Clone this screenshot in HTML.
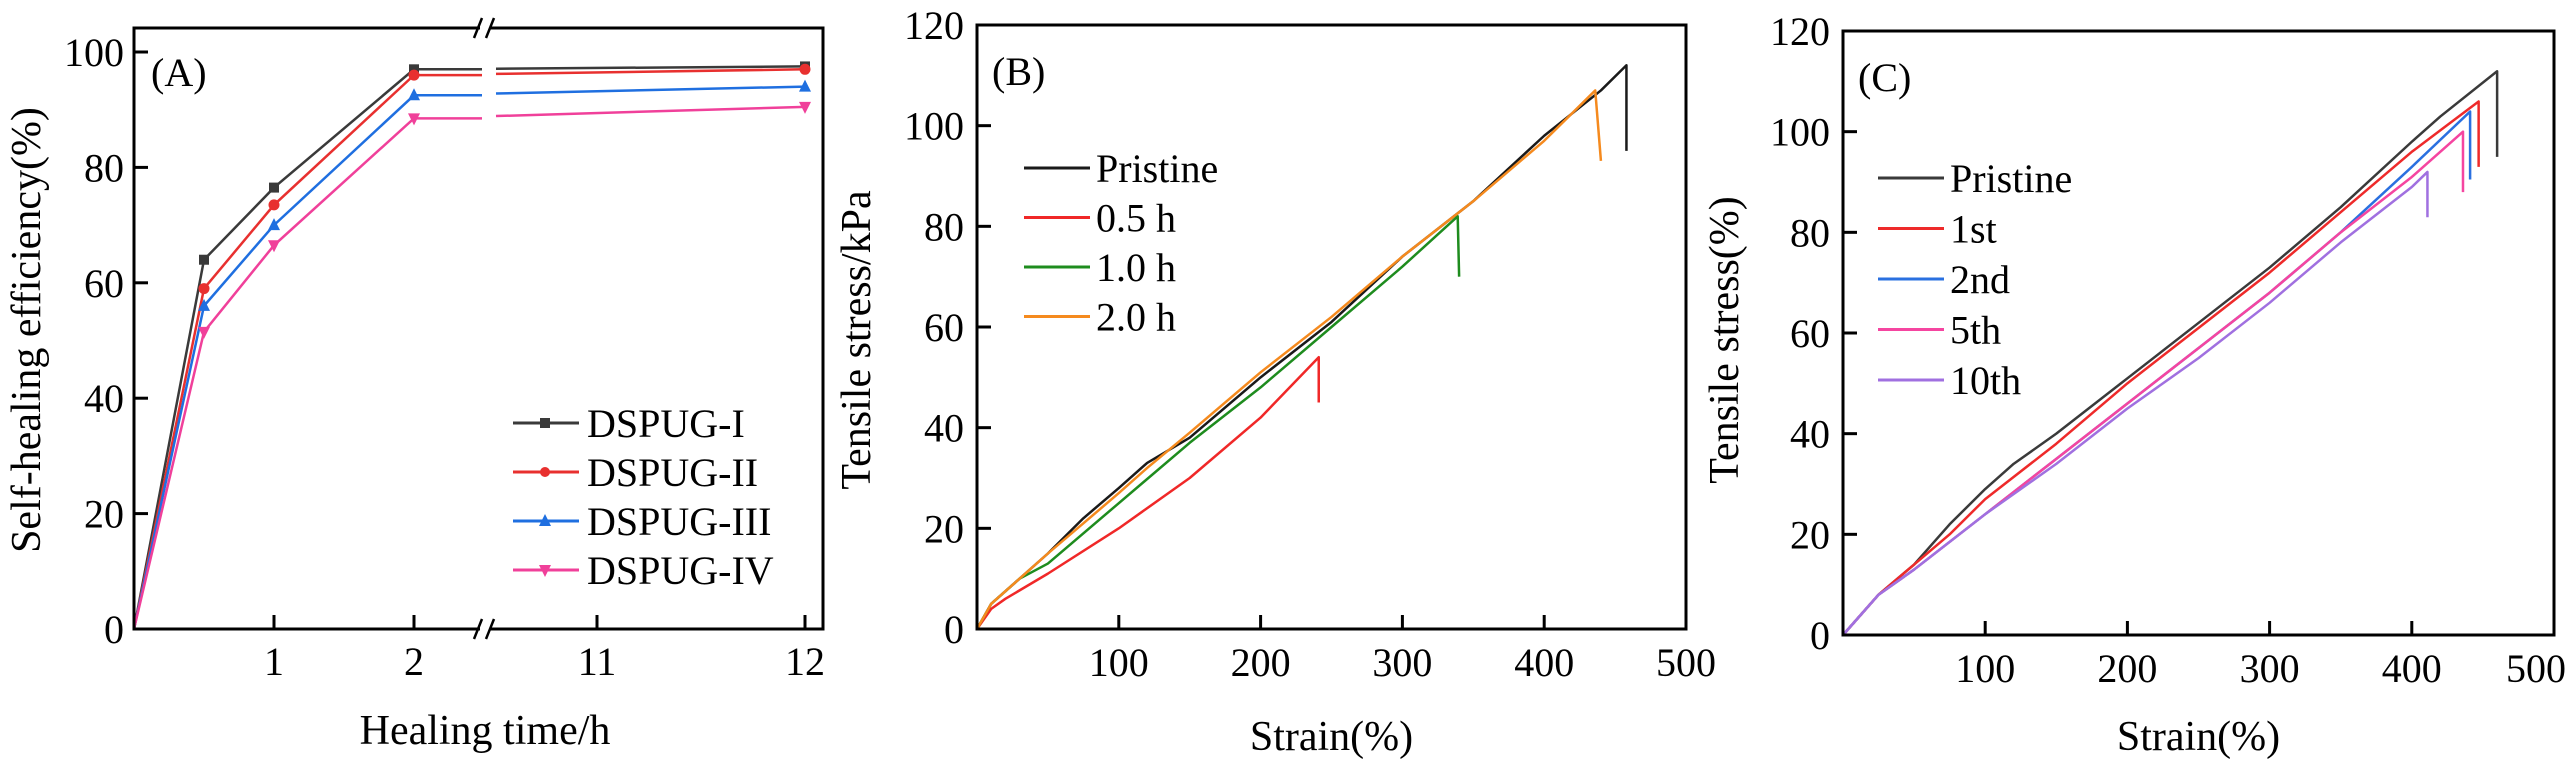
<!DOCTYPE html>
<html><head><meta charset="utf-8"><style>
html,body{margin:0;padding:0;background:#fff;}
svg{display:block;}
svg text{font-family:"Liberation Serif","Times New Roman",serif !important;fill:#000;}
</style></head><body>
<svg id="fig" width="2567" height="763" viewBox="0 0 2567 763" xmlns="http://www.w3.org/2000/svg" font-family="Liberation Serif, serif">
<g id="pa"></g>
<g id="pb"></g>
<g id="pc"></g>
</svg>
<script>
// Panel A data
const aTimes = [0, 0.5, 1, 2, 12];
const aNames = ["DSPUG-I","DSPUG-II","DSPUG-III","DSPUG-IV"];
const aI = [0, 64, 76.5, 97, 97.5];
const aII = [0, 59, 73.5, 96, 97];
const aIII = [0, 56, 70, 92.5, 94];
const aIV = [0, 51.5, 66.5, 88.5, 90.5];
const aXTicks = [1, 2, 11, 12];
const aYTicks = [0, 20, 40, 60, 80, 100];

// Panel B data (strain %, stress kPa)
const bNames = ["Pristine","0.5 h","1.0 h","2.0 h"];
const bPristineX = [0,10,30,50,75,100,120,150,200,250,300,350,400,440,458,458];
const bPristineY = [0,5,10,15,22,28,33,38,50,61,74,85,98,107,112,95];
const bHalfX = [0,10,20,50,100,150,200,241,241];
const bHalfY = [0,4,6,11,20,30,42,54,45];
const bOneX = [0,10,30,50,100,150,200,250,300,339,340];
const bOneY = [0,5,10,13,25,37,48,60,72,82,70];
const bTwoX = [0,10,30,50,75,100,120,150,200,250,300,350,400,436,440];
const bTwoY = [0,5,10,15,21,27,32,39,51,62,74,85,97,107,93];
const bXTicks = [100,200,300,400,500];
const bYTicks = [0,20,40,60,80,100,120];

// Panel C data
const cNames = ["Pristine","1st","2nd","5th","10th"];
const cPristineX = [0,25,50,75,100,120,150,200,250,300,350,400,420,460,460];
const cPristineY = [0,8,14,22,29,34,40,51,62,73,85,98,103,112,95];
const cFirstX = [0,25,50,75,100,150,200,250,300,350,400,447,447];
const cFirstY = [0,8,14,20,27,38,50,61,72,84,96,106,93];
const cSecondX = [0,25,50,100,150,200,250,300,350,400,441,441];
const cSecondY = [0,8,13,24,35,46,57,68,80,93,104,90.5];
const cFifthX = [0,25,50,100,150,200,250,300,350,400,436,436];
const cFifthY = [0,8,13,24,35,46,57,68,80,91,100,88];
const cTenthX = [0,25,50,100,150,200,250,300,350,400,411,411];
const cTenthY = [0,8,13,24,34,45,55,66,78,89,92,83];

const NS = "http://www.w3.org/2000/svg";
function mk(parent, tag, attrs, txt){
  const e = document.createElementNS(NS, tag);
  for (const k in attrs) e.setAttribute(k, attrs[k]);
  if (tag === "text") e.setAttribute("font-family", "Liberation Serif, serif");
  if (txt !== undefined) e.textContent = txt;
  parent.appendChild(e);
  return e;
}

// ---------- Panel A ----------
(function(){
  const g = document.getElementById("pa");
  const L=134, R=823, T=28, B=629;
  const ya = v => B - v*5.77;
  const xa = t => t <= 2 ? L + t*140 : 597 + (t-11)*208;
  const colors = ["#3a3a3a","#e8302f","#1f6fe0","#f0409a"];
  const series = [aI, aII, aIII, aIV];
  series.forEach((s, si) => {
    let pts = [];
    for (let i=0;i<aTimes.length-1;i++) pts.push(xa(aTimes[i])+","+ya(s[i]));
    pts.push("482,"+(ya(s[3])));
    let pl = mk(g,"polyline",{points:pts.join(" "),fill:"none",stroke:colors[si],"stroke-width":2.5});
    
    
    const yEnd = ya(s[4]);
    const yMid = ya(s[3]) + (yEnd-ya(s[3]))*0.2;
    let pl2 = mk(g,"polyline",{points:"496,"+yMid+" "+xa(aTimes[4])+","+yEnd,fill:"none",stroke:colors[si],"stroke-width":2.5});
    
    
    for (let i=1;i<aTimes.length;i++){
      const x = xa(aTimes[i]), y = ya(s[i]);
      let m;
      if (si===0) m = mk(g,"rect",{x:x-5,y:y-5,width:10,height:10,fill:colors[si]});
      else if (si===1) m = mk(g,"circle",{cx:x,cy:y,r:5.5,fill:colors[si]});
      else if (si===2) m = mk(g,"polygon",{points:`${x},${y-7} ${x-6},${y+5} ${x+6},${y+5}`,fill:colors[si]});
      else m = mk(g,"polygon",{points:`${x},${y+7} ${x-6},${y-5} ${x+6},${y-5}`,fill:colors[si]});
      
      
    }
  });
  const ax = mk(g,"path",{d:`M480,${T} L${L},${T} L${L},${B} L480,${B} M490,${T} L${R},${T} L${R},${B} L490,${B}`,fill:"none",stroke:"#000","stroke-width":3,"stroke-linejoin":"miter"});
   
  [T,B].forEach(yy=>{
    mk(g,"line",{x1:474,y1:yy+10,x2:482,y2:yy-10,stroke:"#000","stroke-width":2.5});
    mk(g,"line",{x1:486,y1:yy+10,x2:494,y2:yy-10,stroke:"#000","stroke-width":2.5});
  });
  aYTicks.forEach(v=>{
    const y = ya(v);
    if (v>0) mk(g,"line",{x1:L,y1:y,x2:L+14,y2:y,stroke:"#000","stroke-width":3});
    const t = mk(g,"text",{x:124,y:y+14,"font-size":40,"text-anchor":"end"},String(v));
     
  });
  aXTicks.forEach(v=>{
    const x = xa(v);
    mk(g,"line",{x1:x,y1:B,x2:x,y2:B-14,stroke:"#000","stroke-width":3});
    const t = mk(g,"text",{x:x,y:675,"font-size":40,"text-anchor":"middle"},String(v));
     
  });
  let t = mk(g,"text",{x:485,y:744,"font-size":42,"text-anchor":"middle"},"Healing time/h");
   
  t = mk(g,"text",{x:0,y:0,"font-size":42,"text-anchor":"middle",transform:"translate(40,330) rotate(-90)"},"Self-healing efficiency(%)");
   
  t = mk(g,"text",{x:151,y:86,"font-size":40},"(A)");
   
  aNames.forEach((n,i)=>{
    const y = 423 + i*49;
    const lg = mk(g,"g",{});
     
    mk(lg,"line",{x1:513,y1:y,x2:579,y2:y,stroke:colors[i],"stroke-width":3});
    const x=545;
    if (i===0) mk(lg,"rect",{x:x-5,y:y-5,width:10,height:10,fill:colors[i]});
    else if (i===1) mk(lg,"circle",{cx:x,cy:y,r:5,fill:colors[i]});
    else if (i===2) mk(lg,"polygon",{points:`${x},${y-7} ${x-6},${y+5} ${x+6},${y+5}`,fill:colors[i]});
    else mk(lg,"polygon",{points:`${x},${y+7} ${x-6},${y-5} ${x+6},${y-5}`,fill:colors[i]});
    mk(lg,"text",{x:587,y:y+14,"font-size":40},n);
  });
})();

// ---------- Stress-strain panels ----------
function stressPanel(gid, box, xs, ys, names, colors, label, ytitle, ytitleX, legendX, legendY, legendGap, clampRight){
  const g = document.getElementById(gid);
  const {L,R,T,B} = box;
  const xs_ = v => L + v*(R-L)/500;
  const ys_ = v => B - v*(B-T)/120;
  xs.forEach((xarr,si)=>{
    const pts = xarr.map((x,i)=>xs_(x)+","+ys_(ys[si][i])).join(" ");
    const p = mk(g,"polyline",{points:pts,fill:"none",stroke:colors[si],"stroke-width":2.5,"stroke-linejoin":"round"});
    
    
  });
  const fr = mk(g,"rect",{x:L,y:T,width:R-L,height:B-T,fill:"none",stroke:"#000","stroke-width":3});
   
  bYTicks.forEach(v=>{
    const y = ys_(v);
    if (v>0 && v<120) mk(g,"line",{x1:L,y1:y,x2:L+14,y2:y,stroke:"#000","stroke-width":3});
    const t = mk(g,"text",{x:L-13,y:y+14,"font-size":40,"text-anchor":"end"},String(v));
     
  });
  bXTicks.forEach(v=>{
    const x = xs_(v);
    if (v<500) mk(g,"line",{x1:x,y1:B,x2:x,y2:B-14,stroke:"#000","stroke-width":3});
    const last = clampRight && v===500;
    const t = mk(g,"text",{x:last?2566:x,y:B+47,"font-size":40,"text-anchor":last?"end":"middle"},String(v));
     
  });
  let t = mk(g,"text",{x:(L+R)/2,y:750,"font-size":42,"text-anchor":"middle"},"Strain(%)");
   
  t = mk(g,"text",{x:0,y:0,"font-size":42,"text-anchor":"middle",transform:`translate(${ytitleX},340) rotate(-90)`},ytitle);
   
  t = mk(g,"text",{x:L+15,y:T+60,"font-size":40},label);
   
  names.forEach((n,i)=>{
    const y = legendY + i*legendGap;
    const lg = mk(g,"g",{});
     
    mk(lg,"line",{x1:legendX,y1:y,x2:legendX+66,y2:y,stroke:colors[i],"stroke-width":3});
    mk(lg,"text",{x:legendX+72,y:y+14,"font-size":40},n);
  });
}
stressPanel("pb",{L:977,R:1686,T:25,B:629},[bPristineX,bHalfX,bOneX,bTwoX],[bPristineY,bHalfY,bOneY,bTwoY],
  bNames,["#1a1a1a","#f02828","#1e8c1e","#f58a1e"],"(B)","Tensile stress/kPa",870,1024,168,49.5,false);
stressPanel("pc",{L:1843,R:2554,T:31,B:635},[cPristineX,cFirstX,cSecondX,cFifthX,cTenthX],[cPristineY,cFirstY,cSecondY,cFifthY,cTenthY],
  cNames,["#3a3a3a","#ee2a2a","#2a70e0","#f545a0","#a070e0"],"(C)","Tensile stress(%)",1738,1878,178,50.5,true);
</script>
</body></html>
